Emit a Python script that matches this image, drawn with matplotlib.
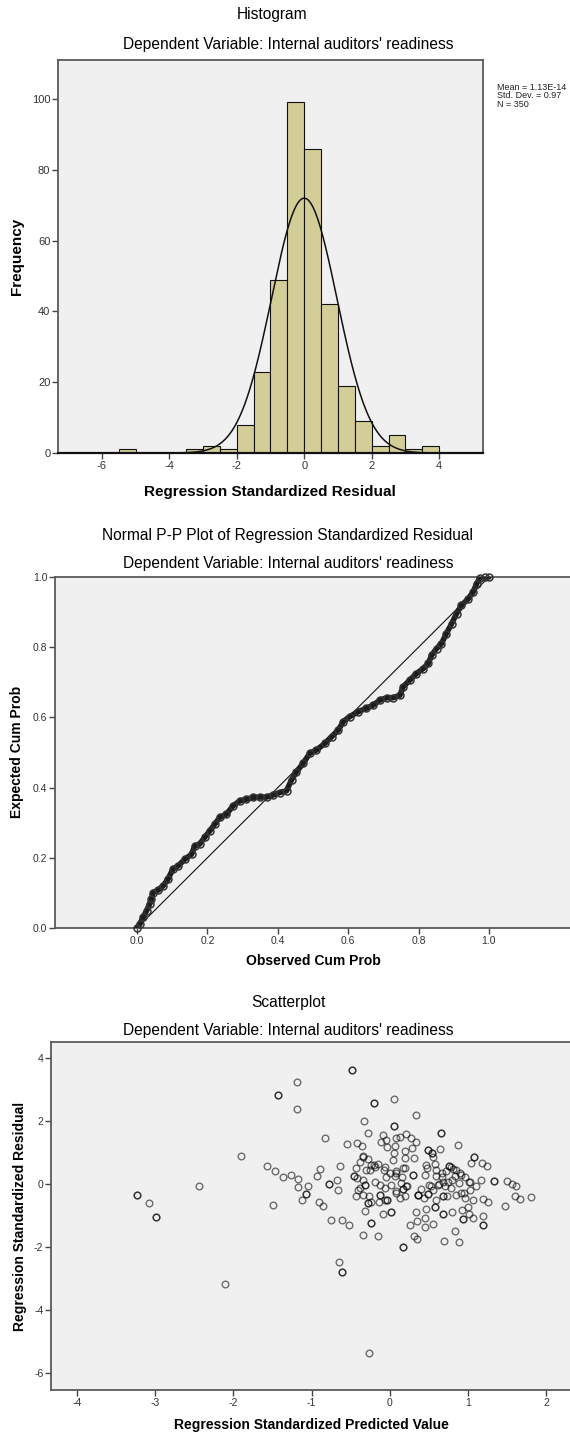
import numpy as np
import matplotlib
matplotlib.use('Agg')
import matplotlib.pyplot as plt

plt.rcParams['font.family'] = ['Liberation Sans', 'DejaVu Sans']
plt.rcParams['axes.unicode_minus'] = False

# ---------------- data ----------------
subtitle = "Dependent Variable: Internal auditors' readiness"

hist_bin_starts = [-5.5, -3.5, -3.0, -2.5, -2.0, -1.5, -1.0, -0.5, 0.0, 0.5, 1.0, 1.5, 2.0, 2.5, 3.0, 3.5]
hist_counts = [1, 1, 2, 1, 8, 23, 49, 99, 86, 42, 19, 9, 2, 5, 1, 2]
bin_width = 0.5
res_mean = 1.13e-14
res_sd = 0.97
res_n = 350
hist_xticks = [-6, -4, -2, 0, 2, 4]
hist_yticks = [0, 20, 40, 60, 80, 100]

pp_obs = [0, 0.008, 0.017, 0.027, 0.036, 0.041, 0.045, 0.06, 0.074, 0.088, 0.102, 0.117, 0.136,
          0.155, 0.164, 0.178, 0.192, 0.207, 0.221, 0.235, 0.254, 0.273, 0.292, 0.311, 0.33,
          0.349, 0.368, 0.387, 0.406, 0.425, 0.439, 0.453, 0.472, 0.491, 0.51, 0.534, 0.553,
          0.572, 0.586, 0.604, 0.628, 0.652, 0.671, 0.69, 0.709, 0.728, 0.747, 0.756, 0.775,
          0.794, 0.813, 0.828, 0.837, 0.851, 0.865, 0.879, 0.894, 0.908, 0.922, 0.941, 0.955,
          0.965, 0.974, 0.988, 1.0]
pp_exp = [0, 0.011, 0.03, 0.049, 0.068, 0.082, 0.101, 0.108, 0.12, 0.139, 0.168, 0.177, 0.196,
          0.21, 0.234, 0.239, 0.258, 0.277, 0.296, 0.315, 0.324, 0.348, 0.362, 0.367, 0.372,
          0.373, 0.373, 0.379, 0.386, 0.391, 0.422, 0.445, 0.469, 0.498, 0.507, 0.526, 0.545,
          0.564, 0.588, 0.602, 0.616, 0.626, 0.635, 0.649, 0.656, 0.656, 0.663, 0.687, 0.706,
          0.725, 0.739, 0.754, 0.777, 0.796, 0.81, 0.839, 0.867, 0.896, 0.919, 0.938, 0.957,
          0.981, 0.997, 1.0, 1.0]
pp_ref = [0, 1]
pp_ticks = [0.0, 0.2, 0.4, 0.6, 0.8, 1.0]

# scatter: predicted value, residual, overlap count (darker rings)
sc_pred = [-0.476, -1.187, -1.424, -1.187, -0.197, 0.053, 0.341, -0.332, 0.058, 0.652, -0.276,
           -0.824, -0.546, -0.416, -0.36, 0.871, 0.491, 0.546, 0.639, -1.897, -1.567, -1.47,
           -1.358, -1.266, -1.173, -1.173, -1.047, -1.066, -1.117, -0.926, -0.894, -0.773,
           -0.676, -0.657, -0.639, -0.907, -0.855, -1.489, -2.441, -3.226, -3.082, -2.994,
           1.336, 1.498, 1.559, 1.614, 1.605, 1.67, 1.8, 1.475, 1.252, 1.187, 1.173, 1.08,
           1.034, 1.183, 1.243,
           -0.755, -0.607, -0.518, -0.337, -0.151, -0.239, -0.314, -0.09, 0.016, 0.174, 0.304,
           0.351, 0.258, 0.351, 0.337, 0.458, 0.453, 0.453, 0.555, 0.574, 0.685, 0.801, 0.834,
           0.88, 0.69, 0.936, 0.927, 1.01, 1.066, 1.187, 1.196, -0.643, -0.605, -2.1, -0.262,
           -0.085, -0.043, -0.115, -0.039, 0.085, 0.072, 0.055, 0.043, -0.34, -0.277, -0.383,
           -0.234, -0.183, -0.149, -0.077, 0.0, 0.064, -0.043, 0.085, -0.434, -0.46, -0.413,
           -0.34, -0.319, -0.383, -0.307, -0.255, -0.192, -0.119, -0.064, 0.021, 0.085, -0.426,
           -0.264, -0.119, -0.034, -0.277, -0.136,
           0.213, 0.277, 0.332, 0.128, 0.289, 0.192, 0.306, 0.192, 0.554, 0.46, 0.575, 0.447,
           0.298, 0.192, 0.162, 0.758, 0.809, 0.715, 0.83, 0.903, 0.958, 1.03, 0.886, 1.03,
           0.945, 0.958, 0.851, 0.787, 0.681, 0.702, 0.63, 0.745, 0.587, 0.673, 0.502, 0.554,
           0.404, 0.362, 0.434, 0.49, 0.213, 0.17, 0.128, 0.149, 1.064, 1.0,
           -0.337, -0.197, -0.058, 0.081, 0.174, 0.3, 0.476, 0.592, 0.662, 0.778, 0.848, 0.917,
           1.01, 0.801, 0.685, 0.615, 0.523, 0.36, 0.221, 0.081, -0.058, -0.244, -0.337, -0.406,
           0.197, 0.592, 0.732, 0.917, 1.103]
sc_resid = [3.62, 3.23, 2.83, 2.39, 2.58, 2.68, 2.17, 1.98, 1.84, 1.62, 1.61,
            1.47, 1.26, 1.31, 1.19, 1.23, 1.08, 0.99, 1.11, 0.89, 0.58, 0.4,
            0.22, 0.29, 0.16, -0.11, -0.08, -0.31, -0.51, 0.26, 0.48, 0.0,
            0.11, -0.21, 0.58, -0.59, -0.69, -0.67, -0.08, -0.36, -0.61, -1.05,
            0.1, 0.1, 0.0, -0.08, -0.38, -0.49, -0.42, -0.7, -0.58, -0.49, 0.13, 0.85,
            0.67, 0.66, 0.57,
            -1.16, -1.14, -1.3, -1.62, -1.67, -1.25, -0.85, -0.95, -0.88, -1.99, -1.65,
            -1.74, -1.31, -1.19, -0.9, -0.8, -1.09, -1.38, -1.27, -0.74, -0.95, -0.88, -1.49,
            -1.85, -1.8, -1.12, -0.83, -0.95, -1.08, -1.01, -1.32, -2.47, -2.81, -3.19, -5.37,
            1.54, 1.4, 1.32, 1.16, 1.45, 1.21, 0.99, 0.76, 0.85, 0.78, 0.68,
            0.6, 0.53, 0.63, 0.44, 0.34, 0.25, 0.23, 0.42, 0.5, 0.25, 0.18,
            0.13, -0.03, -0.14, 0.44, 0.44, 0.07, -0.03, -0.14, -0.03, -0.24, -0.38,
            -0.38, -0.35, -0.51, -0.61, -0.59,
            1.58, 1.45, 1.34, 1.5, 1.13, 1.03, 0.81, 0.81, 0.85, 0.6, 0.63, 0.29,
            0.29, 0.5, 0.23, 0.57, 0.47, 0.42, 0.25, 0.36, 0.23, 0.07, 0.04, -0.19,
            -0.3, -0.46, -0.35, -0.14, -0.38, -0.08, 0.0, 0.07, 0.25, 0.34, -0.03, -0.21,
            -0.17, -0.35, -0.46, -0.32, -0.08, -0.17, -0.46, 0.02, -0.51, -0.72,
            0.87, 0.60, 0.55, 0.34, 0.50, 0.29, 0.50, 0.44, 0.23, 0.55, 0.44, 0.29,
            0.07, 0.13, 0.07, -0.03, -0.08, -0.35, -0.08, -0.30, -0.51, -0.56, -0.35, -0.19,
            -0.40, -0.51, -0.40, -0.30, -0.08]
sc_overlap = [2, 1, 2, 1, 2, 1, 1, 1, 2, 2, 1,
              1, 1, 1, 1, 1, 2, 2, 1, 1, 1, 1,
              1, 1, 1, 1, 1, 2, 1, 1, 1, 2,
              1, 1, 1, 1, 1, 1, 1, 2, 1, 2,
              2, 1, 1, 1, 1, 1, 1, 1, 1, 1, 1, 2,
              1, 1, 1,
              1, 1, 1, 1, 1, 2, 1, 1, 2, 2, 1,
              1, 1, 1, 1, 1, 1, 1, 1, 2, 2, 1, 1,
              1, 1, 2, 1, 1, 1, 1, 2, 1, 2, 1, 1,
              1, 1, 1, 1, 1, 1, 1, 1, 1, 1, 1,
              1, 1, 1, 1, 1, 1, 1, 1, 1, 2, 1,
              1, 2, 1, 1, 1, 1, 1, 1, 1, 1, 1,
              1, 2, 2, 2, 1,
              1, 1, 1, 1, 1, 1, 1, 1, 1, 1, 1, 1,
              1, 1, 1, 2, 1, 1, 1, 1, 1, 1, 1, 1,
              1, 1, 1, 1, 2, 1, 1, 1, 1, 1, 1, 1,
              1, 2, 1, 2, 1, 2, 1, 1, 1, 1,
              1, 1, 1, 1, 1, 1, 1, 1, 1, 1, 1, 1,
              1, 1, 1, 1, 1, 1, 1, 1, 1, 1, 1, 1,
              1, 1, 1, 1, 1]
sc_xticks = [-4, -3, -2, -1, 0, 1, 2]
sc_yticks = [-6, -4, -2, 0, 2, 4]

# ---------------- figure ----------------
W, H = 570, 1435
fig = plt.figure(figsize=(W / 100, H / 100), dpi=100)
fig.patch.set_facecolor('white')


def ax_px(l, t, r, b):
    return fig.add_axes([l / W, 1 - b / H, (r - l) / W, (b - t) / H])


def ftext(x, y, s, **kw):
    fig.text(x / W, 1 - y / H, s, **kw)


def style(ax, lsize=7.5):
    ax.set_facecolor('#F0F0F0')
    for s in ax.spines.values():
        s.set_color('#5a5a5a')
        s.set_linewidth(1.3)
    ax.tick_params(direction='out', length=4, width=1, color='#444',
                   labelsize=lsize, labelcolor='#333', pad=1.5)


TITLE_FS = 11.2
SUB_FS = 11.2
LAB_FS = 10

# ---- Histogram ----
ax1 = ax_px(58, 60, 483, 453)
style(ax1, 8)
ax1.bar(hist_bin_starts, hist_counts, width=bin_width, align='edge',
        color='#D3CE97', edgecolor='#111', linewidth=0.8, zorder=2)
xs = np.linspace(-7.3, 5.3, 600)
curve = res_n * bin_width / (res_sd * np.sqrt(2 * np.pi)) * np.exp(-0.5 * ((xs - res_mean) / res_sd) ** 2)
ax1.plot(xs, curve, color='#111', lw=1.1, zorder=3)
ax1.set_xlim(-7.3, 5.3)
ax1.set_ylim(0, 111)
ax1.set_xticks(hist_xticks)
ax1.set_yticks(hist_yticks)
ax1.spines['bottom'].set_color('#111')
ax1.spines['bottom'].set_linewidth(1.6)

ftext(272, 14, 'Histogram', ha='center', va='center', fontsize=TITLE_FS)
ftext(288, 45, subtitle, ha='center', va='center', fontsize=SUB_FS)
ftext(270, 492, 'Regression Standardized Residual', ha='center', va='center',
      fontsize=11, fontweight='bold')
ftext(17, 256, 'Frequency', ha='center', va='center', rotation=90,
      fontsize=11, fontweight='bold')
ftext(497, 96, 'Mean = 1.13E-14\nStd. Dev. = 0.97\nN = 350', ha='left', va='center',
      fontsize=6.5, linespacing=0.95, color='#222')

# ---- P-P plot ----
ax2 = ax_px(55, 577, 572, 928)
style(ax2)
ax2.plot(pp_ref, pp_ref, color='#111', lw=0.8, zorder=2)
ax2.plot(pp_obs, pp_exp, '-', color='#1c1c1c', lw=4.0, solid_capstyle='round',
         solid_joinstyle='round', zorder=3)
ax2.plot(pp_obs, pp_exp, 'o', mfc='none', mec='#333333', ms=5, mew=1.1, zorder=4,
         clip_on=False)
ax2.set_xlim(-0.233, 1.236)
ax2.set_ylim(0, 1)
ax2.set_xticks(pp_ticks)
ax2.set_yticks(pp_ticks)
ax2.set_xticklabels([f'{t:.1f}' for t in pp_ticks])
ax2.set_yticklabels([f'{t:.1f}' for t in pp_ticks])

ftext(288, 535, 'Normal P-P Plot of Regression Standardized Residual', ha='center',
      va='center', fontsize=TITLE_FS)
ftext(288, 563, subtitle, ha='center', va='center', fontsize=SUB_FS)
ftext(313, 961, 'Observed Cum Prob', ha='center', va='center',
      fontsize=LAB_FS, fontweight='bold')
ftext(17, 752, 'Expected Cum Prob', ha='center', va='center', rotation=90,
      fontsize=LAB_FS, fontweight='bold')

# ---- Scatterplot ----
ax3 = ax_px(51, 1042, 572, 1390)
style(ax3)
px = np.repeat(sc_pred, sc_overlap)
py = np.repeat(sc_resid, sc_overlap)
ax3.plot(px, py, 'o', mfc='none', mec=(0, 0, 0, 0.55), ms=4.8, mew=1.0, zorder=3)
ax3.set_xlim(-4.33, 2.33)
ax3.set_ylim(-6.54, 4.5)
ax3.set_xticks(sc_xticks)
ax3.set_yticks(sc_yticks)

ftext(288, 1002, 'Scatterplot', ha='center', va='center', fontsize=TITLE_FS)
ftext(288, 1030, subtitle, ha='center', va='center', fontsize=SUB_FS)
ftext(311, 1425, 'Regression Standardized Predicted Value', ha='center', va='center',
      fontsize=LAB_FS, fontweight='bold')
ftext(20, 1216, 'Regression Standardized Residual', ha='center', va='center', rotation=90,
      fontsize=LAB_FS, fontweight='bold')

fig.savefig('out.png', dpi=100)
